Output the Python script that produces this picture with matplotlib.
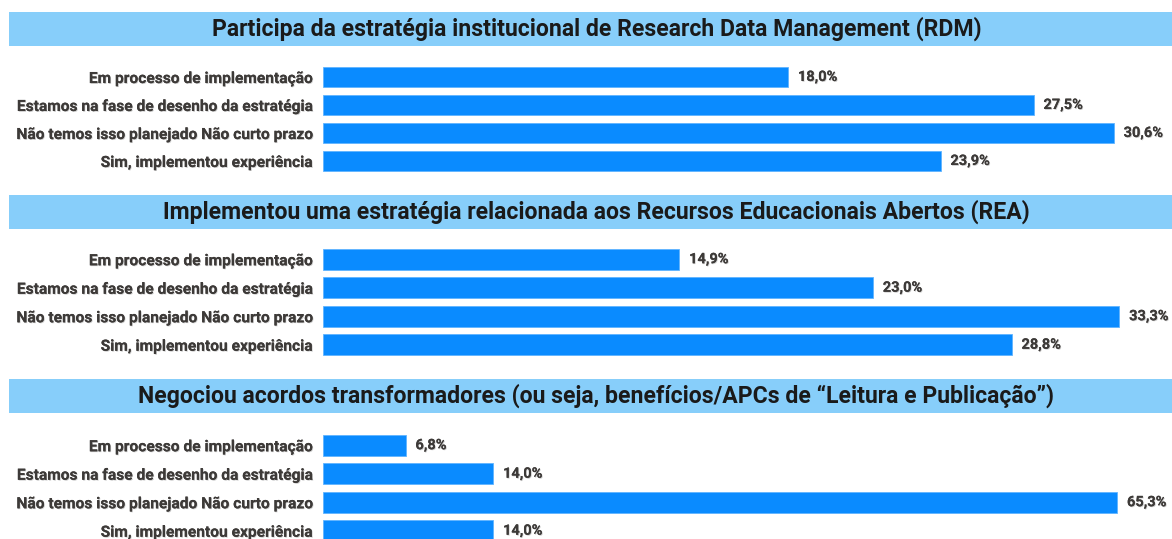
import matplotlib.pyplot as plt
from matplotlib import patheffects

plt.rcParams['font.family'] = ['Roboto', 'DejaVu Sans']

# Survey answers shared by all three questions
categories = [
    "Em processo de implementação",
    "Estamos na fase de desenho da estratégia",
    "Não temos isso planejado Não curto prazo",
    "Sim, implementou experiência",
]

titles = [
    "Participa da estratégia institucional de Research Data Management (RDM)",
    "Implementou uma estratégia relacionada aos Recursos Educacionais Abertos (REA)",
    "Negociou acordos transformadores (ou seja, benefícios/APCs de “Leitura e Publicação”)",
]

rdm_values = [18.0, 27.5, 30.6, 23.9]
rea_values = [14.9, 23.0, 33.3, 28.8]
acordos_values = [6.8, 14.0, 65.3, 14.0]
series = [rdm_values, rea_values, acordos_values]

# layout in pixels: (header top, header bottom, bars top, bars bottom, x max)
W, H = 1172, 539
layout = [
    (12, 46, 63, 175, 32.85),
    (195, 229, 245, 359, 35.5),
    (379, 413, 431, 545, 69.8),
]

bar_color = '#0a8bff'
header_color = '#87cefa'
text_color = '#3d3a38'

fig = plt.figure(figsize=(W / 100, H / 100), dpi=100)
fig.patch.set_facecolor('white')

shadow = [patheffects.withSimplePatchShadow(offset=(0.6, -0.6), shadow_rgbFace='#999999', alpha=0.5),
          patheffects.Normal()]

for title, values, (h_top, h_bot, b_top, b_bot, xmax) in zip(titles, series, layout):
    # header band with the question
    hax = fig.add_axes([9 / W, 1 - h_bot / H, (W - 9) / W, (h_bot - h_top) / H])
    hax.set_facecolor(header_color)
    hax.set_xticks([])
    hax.set_yticks([])
    for s in hax.spines.values():
        s.set_visible(False)
    hax.text(0.505, 0.5, title, ha='center', va='center', fontsize=16.6,
             fontweight='bold', color='#1a1a1a', transform=hax.transAxes)

    # horizontal bars
    ax = fig.add_axes([323 / W, 1 - b_bot / H, (W - 323) / W, (b_bot - b_top) / H])
    y = range(len(categories))
    bars = ax.barh(y, values, height=0.72, color=bar_color, edgecolor='#5fb4ff', linewidth=0.6)
    ax.set_ylim(len(categories) - 0.5, -0.5)
    ax.set_xlim(0, xmax)
    ax.set_yticks(list(y))
    ax.set_yticklabels(categories, fontsize=11.2, fontweight='bold', color=text_color)
    for lbl in ax.get_yticklabels():
        lbl.set_path_effects(shadow)
    ax.tick_params(axis='y', length=0, pad=8)
    ax.set_xticks([])
    for s in ax.spines.values():
        s.set_visible(False)
    texts = ax.bar_label(bars, labels=[f"{v:.1f}%".replace('.', ',') for v in values],
                         padding=7, fontsize=10.5, fontweight='bold', color=text_color)
    for t in texts:
        t.set_path_effects(shadow)
    ax.set_facecolor('none')

fig.savefig('out.png', dpi=100)
